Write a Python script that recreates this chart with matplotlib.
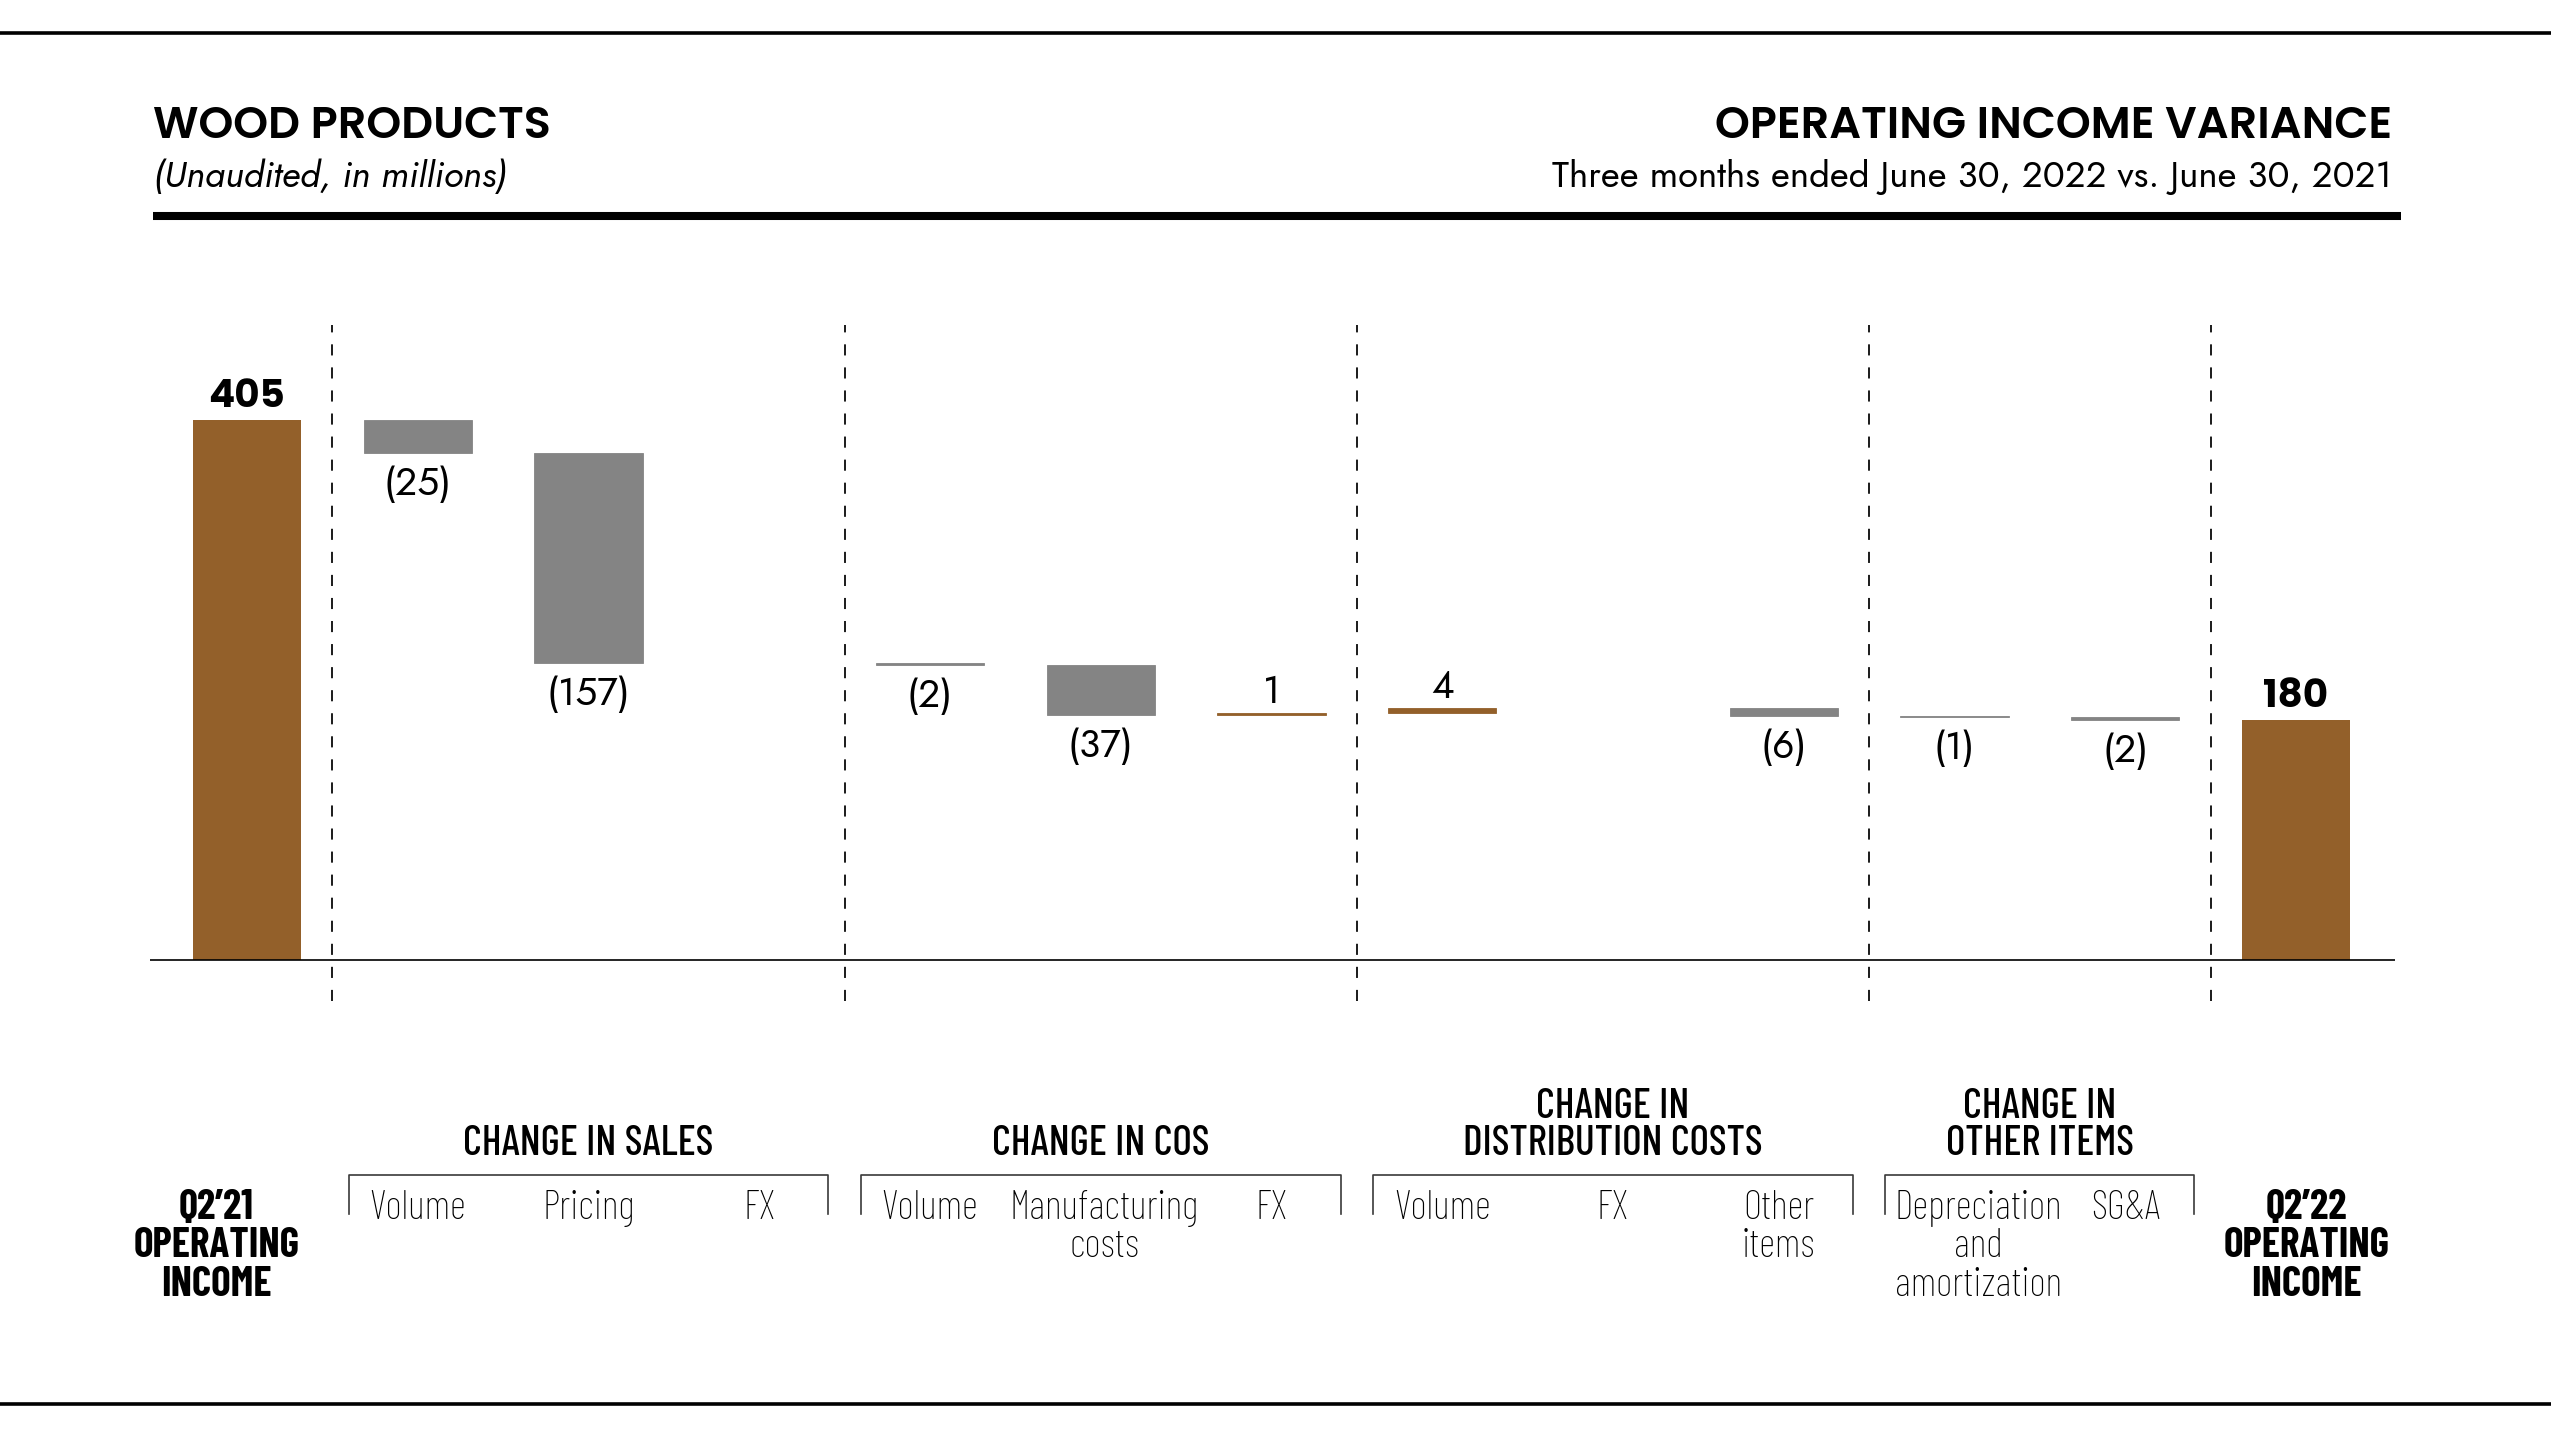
import matplotlib
matplotlib.use("Agg")
import matplotlib.pyplot as plt
import matplotlib.transforms as mtransforms
import logging
logging.getLogger("matplotlib.font_manager").setLevel(logging.ERROR)

plt.rcParams["lines.scale_dashes"] = False

# ---------------- data ----------------
categories = ["Q2\u201921\nOPERATING\nINCOME", "Volume", "Pricing", "FX",
              "Volume", "Manufacturing\ncosts", "FX",
              "Volume", "FX", "Other\nitems",
              "Depreciation\nand\namortization", "SG&A",
              "Q2\u201922\nOPERATING\nINCOME"]
start_value = 405
changes = [-25, -157, 0, -2, -37, 1, 4, 0, -6, -1, -2]
end_value = 180
group_titles = ["CHANGE IN SALES", "CHANGE IN COS",
                "CHANGE IN\nDISTRIBUTION COSTS", "CHANGE IN\nOTHER ITEMS"]
group_members = [(1, 3), (4, 6), (7, 9), (10, 11)]
title_left = "WOOD PRODUCTS"
subtitle_left = "(Unaudited, in millions)"
title_right = "OPERATING INCOME VARIANCE"
subtitle_right = "Three months ended June 30, 2022 vs. June 30, 2021"

# ---------------- style ----------------
BROWN = "#93602A"
GRAY = "#848484"
HEAD = ["Jost", "Lato", "DejaVu Sans"]
BOLD = ["Poppins", "Lato", "DejaVu Sans"]
COND = ["Barlow Condensed", "Liberation Sans Narrow", "DejaVu Sans"]
label_dx = [-0.18, 0, 0, 0, 0, 0.02, 0, 0, 0, -0.03, 0.14, 0, 0.06]

W, H = 2551, 1434
PT = 72 / 100  # points per pixel
fig = plt.figure(figsize=(W / 100, H / 100), dpi=100)
renderer = fig.canvas.get_renderer()


def fy(py):
    return 1 - py / H


def fit_size(s, target, **kw):
    t = fig.text(0, 0, s, fontsize=100, **kw)
    w = t.get_window_extent(renderer).width
    t.remove()
    return 100 * target / w


# ---------------- header ----------------
fs_title = fit_size(title_right, 677, family=BOLD, weight="semibold")
fs_sub_r = fit_size(subtitle_right, 838, family=HEAD, weight="light")
fs_sub_l = fit_size(subtitle_left, 354, family=HEAD, weight="light", style="italic")

fig.text(153 / W, fy(138), title_left, family=BOLD, weight="semibold", fontsize=fs_title,
         ha="left", va="baseline")
fig.text(153 / W, fy(187), subtitle_left, family=HEAD, weight="light", style="italic",
         fontsize=fs_sub_l, ha="left", va="baseline")
fig.text(2392 / W, fy(138), title_right, family=BOLD, weight="semibold", fontsize=fs_title,
         ha="right", va="baseline")
fig.text(2392 / W, fy(187), subtitle_right, family=HEAD, weight="light",
         fontsize=fs_sub_r, ha="right", va="baseline")

fig.add_artist(plt.Line2D([0, 1], [fy(33), fy(33)], color="black", lw=2.6,
                          transform=fig.transFigure))
fig.add_artist(plt.Line2D([0, 1], [fy(1404), fy(1404)], color="black", lw=2.6,
                          transform=fig.transFigure))
fig.add_artist(plt.Line2D([153 / W, 2401 / W], [fy(216), fy(216)], color="black",
                          lw=5.8, solid_capstyle="butt", transform=fig.transFigure))

# ---------------- chart ----------------
ax_left_px, ax_right_px, ax_top_px, ax_bot_px = 150, 2395, 300, 1010
ax = fig.add_axes([ax_left_px / W, fy(ax_bot_px), (ax_right_px - ax_left_px) / W,
                   (ax_bot_px - ax_top_px) / H])
ax.set_xlim(-0.568, 12.58)
ax.set_ylim(-37.5, 495)
ax.axis("off")

n = len(categories)
bw = 0.635

fs_val = fit_size("(157)", 84, family=HEAD)
fs_tot = fit_size("405", 77, family=BOLD, weight="bold")

# totals
for x, v in ((0, start_value), (n - 1, end_value)):
    ax.bar(x, v, width=bw, color=BROWN, linewidth=0)
    ax.annotate(str(v), (x, v), xytext=(0, 13 * PT), textcoords="offset points",
                ha="center", va="baseline", family=BOLD, weight="bold", fontsize=fs_tot)

running = start_value
for i, c in enumerate(changes):
    x = i + 1
    new = running + c
    if c != 0:
        lo = min(running, new)
        col = BROWN if c > 0 else GRAY
        ax.bar(x, abs(c), bottom=lo, width=bw, color=col, edgecolor=col, linewidth=0.6)
        if c > 0:
            ax.annotate(str(c), (x, new), xytext=(0, 10 * PT), textcoords="offset points",
                        ha="center", va="baseline", family=HEAD, fontsize=fs_val)
        else:
            ax.annotate("(%d)" % abs(c), (x, new), xytext=(0, -42 * PT),
                        textcoords="offset points", ha="center", va="baseline",
                        family=HEAD, fontsize=fs_val)
    running = new

ax.axhline(0, color="black", lw=1.2)

# dashed separators
sep_x = [0.5] + [g[1] + 0.5 for g in group_members]
for sx in sep_x:
    ax.plot([sx, sx], [-31, 476], color="#1a1a1a", lw=1.4, linestyle=(0, (8.0, 8.6)))

# ---------------- bottom labels ----------------
blend = mtransforms.blended_transform_factory(ax.transData, fig.transFigure)

fs_sub = fit_size("Manufacturing", 189, family=COND, weight="light")
fs_grp = fit_size("DISTRIBUTION COSTS", 299, family=COND, weight="medium")
fs_cat = fit_size("OPERATING", 166, family=COND, weight="bold")

for i, lab in enumerate(categories):
    total = i in (0, n - 1)
    lines = lab.split("\n")
    for k, line in enumerate(lines):
        fig.text(i + label_dx[i], fy(1219 + k * 38.3), line, transform=blend,
                 ha="center", va="baseline", family=COND,
                 weight="bold" if total else "light",
                 fontsize=fs_cat if total else fs_sub)

gap = 0.095
for title, (a, b) in zip(group_titles, group_members):
    x0, x1 = a - 0.5 + gap, b + 0.5 - gap
    ln = plt.Line2D([x0, x0, x1, x1], [fy(1214), fy(1175), fy(1175), fy(1214)],
                    color="#3a3a3a", lw=1.2, transform=blend, clip_on=False)
    fig.add_artist(ln)
    lines = title.split("\n")
    for k, line in enumerate(lines):
        yb = 1155 - (len(lines) - 1 - k) * 37
        fig.text((x0 + x1) / 2, fy(yb), line, transform=blend, ha="center",
                 va="baseline", family=COND, weight="medium", fontsize=fs_grp)

fig.savefig("out.png", dpi=100)
